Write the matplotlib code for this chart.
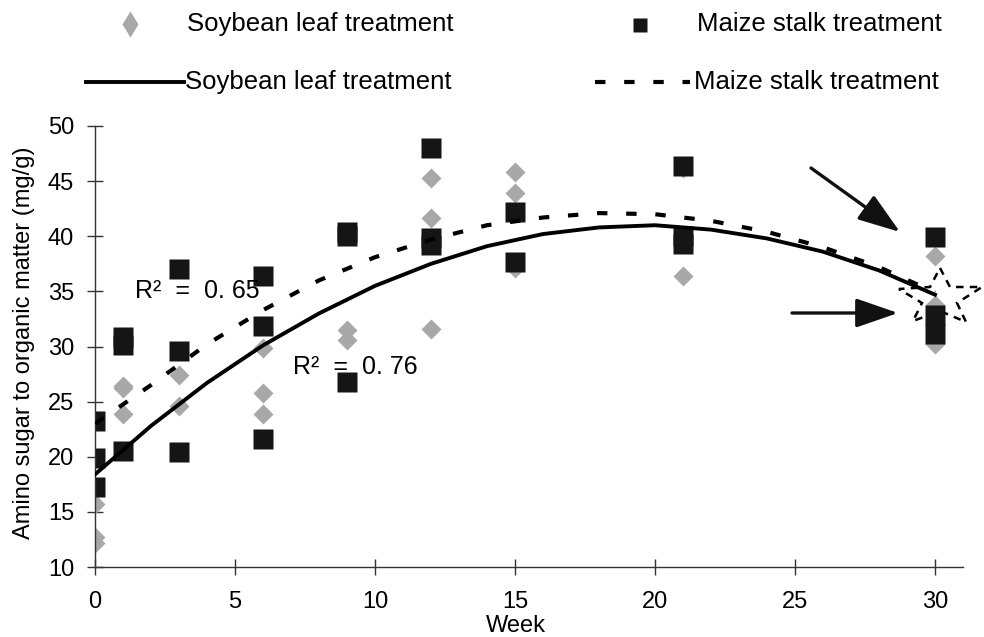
import matplotlib.pyplot as plt
from matplotlib.lines import Line2D
from matplotlib.patches import Polygon, FancyArrowPatch

plt.rcParams['font.family'] = ['Liberation Sans', 'DejaVu Sans']

# replicate measurements, amino sugar per organic matter (mg/g)
soy_week = [0, 0, 0, 1, 1, 1, 3, 3, 6, 6, 6, 9, 9, 12, 12, 12,
            15, 15, 15, 21, 21, 30, 30, 30, 30]
soy_amino = [15.7, 12.7, 12.2, 26.4, 26.2, 23.9, 27.4, 24.6, 29.9, 25.8, 23.9,
             31.5, 30.6, 45.3, 41.7, 31.6, 45.8, 43.9, 37.1, 46.2, 36.4,
             38.2, 33.8, 31.0, 30.2]

maize_week = [0, 0, 0, 1, 1, 1, 3, 3, 3, 6, 6, 6, 9, 9, 9, 12, 12, 12,
              15, 15, 21, 21, 21, 30, 30, 30]
maize_amino = [23.2, 19.9, 17.3, 30.9, 30.1, 20.5, 37.0, 29.6, 20.4,
               36.4, 31.9, 21.6, 40.4, 40.0, 26.8, 48.0, 39.8, 39.2,
               42.2, 37.7, 46.4, 40.0, 39.3, 39.9, 32.9, 31.1]

# polynomial trend lines, sampled every two weeks
trend_week = [0, 2, 4, 6, 8, 10, 12, 14, 16, 18, 20, 22, 24, 26, 28, 30]
soy_trend = [18.4, 22.8, 26.7, 30.1, 33.0, 35.5, 37.5, 39.1, 40.2, 40.8,
             41.0, 40.6, 39.8, 38.6, 36.9, 34.7]
maize_trend = [23.0, 26.5, 30.2, 33.3, 36.0, 38.1, 39.7, 41.0, 41.7, 42.1,
               42.0, 41.4, 40.4, 39.0, 37.2, 34.9]

r2_soy = "R\u00b2  =  0. 76"
r2_maize = "R\u00b2  =  0. 65"
legend_label_soy = "Soybean leaf treatment"
legend_label_maize = "Maize stalk treatment"

W, H = 984, 637
fig = plt.figure(figsize=(W / 100, H / 100), dpi=100)


def fpos(px, py):
    # pixel position (origin top-left) -> figure fraction
    return px / W, 1 - py / H


ax = fig.add_axes([95 / W, 70 / H, 868 / W, 441 / H])
ax.set_xlim(0, 31)
ax.set_ylim(10, 50)
ax.set_xticks(range(0, 31, 5))
ax.set_yticks(range(10, 51, 5))
for side in ['top', 'right']:
    ax.spines[side].set_visible(False)
for side in ['left', 'bottom']:
    ax.spines[side].set_color('#333333')
    ax.spines[side].set_linewidth(1.0)
ax.tick_params(axis='both', direction='inout', length=11, width=1.0,
               color='#333333', labelsize=17)
ax.tick_params(axis='y', pad=9.5)
ax.tick_params(axis='x', pad=12)

grey = '#a8a8a8'
dark = '#151515'
dash = (0, (2.5, 4.5))

ax.plot(soy_week, soy_amino, linestyle='none', marker='D', ms=10.5,
        color=grey, mec='none', zorder=2)
ax.plot(maize_week, maize_amino, linestyle='none', marker='s', ms=14.5,
        color=dark, mec='none', zorder=2.5)
ax.plot(trend_week, soy_trend, color='black', lw=2.8, zorder=3)
ax.plot(trend_week, maize_trend, color='black', lw=3, zorder=3,
        linestyle=dash)

# R squared labels
fig.text(*fpos(135, 298), r2_maize, fontsize=18, va='baseline')
fig.text(*fpos(293, 374), r2_soy, fontsize=18, va='baseline')

# axis titles
fig.text(*fpos(24, 343), "Amino sugar to organic matter (mg/g)",
         rotation=90, fontsize=17, ha='center', va='center')
fig.text(*fpos(516, 626), "Week", fontsize=17, ha='center', va='center')

# legend: marker-only entries on the first row, trend lines below
leg_size = 18.5
fig.add_artist(Line2D([fpos(130, 24)[0]], [fpos(130, 24)[1]], marker='d',
                      ms=13, color=grey, mec='none', linestyle='none'))
fig.text(*fpos(187, 24), legend_label_soy, fontsize=leg_size, va='center')
fig.add_artist(Line2D([fpos(640, 25)[0]], [fpos(640, 25)[1]], marker='s',
                      ms=10.5, color=dark, mec='none', linestyle='none'))
fig.text(*fpos(697, 24), legend_label_maize, fontsize=leg_size, va='center')

x0, y0 = fpos(86, 82)
x1, _ = fpos(184, 82)
fig.add_artist(Line2D([x0, x1], [y0, y0], color='black', lw=2.8))
fig.text(*fpos(185, 82), legend_label_soy, fontsize=leg_size, va='center')
x0, y0 = fpos(595, 82)
x1, _ = fpos(690, 82)
fig.add_artist(Line2D([x0, x1], [y0, y0], color='black', lw=3,
                      linestyle=dash))
fig.text(*fpos(694, 82), legend_label_maize, fontsize=leg_size, va='center')

# dashed star marking where both trends meet at week 30
star_px = [(940, 268), (950, 287), (982, 287), (957, 303), (966, 322),
           (940, 311), (913, 321), (922, 303), (899, 289), (930, 287)]
star = Polygon([fpos(x, y) for x, y in star_px], closed=True, fill=False,
               edgecolor='black', lw=1.8, linestyle=(0, (3, 2.5)),
               transform=fig.transFigure, clip_on=False, zorder=1.5)
ax.add_patch(star)

for start, tip in [((811, 168), (900, 232)), ((792, 313), (898, 313))]:
    arrow = FancyArrowPatch(fpos(*start), fpos(*tip),
                            transform=fig.transFigure,
                            arrowstyle='-|>,head_length=1.3,head_width=0.45',
                            mutation_scale=20, color='#111111', lw=2.4,
                            shrinkA=0, shrinkB=0, clip_on=False, zorder=4)
    ax.add_patch(arrow)

fig.savefig("out.png", dpi=100)
